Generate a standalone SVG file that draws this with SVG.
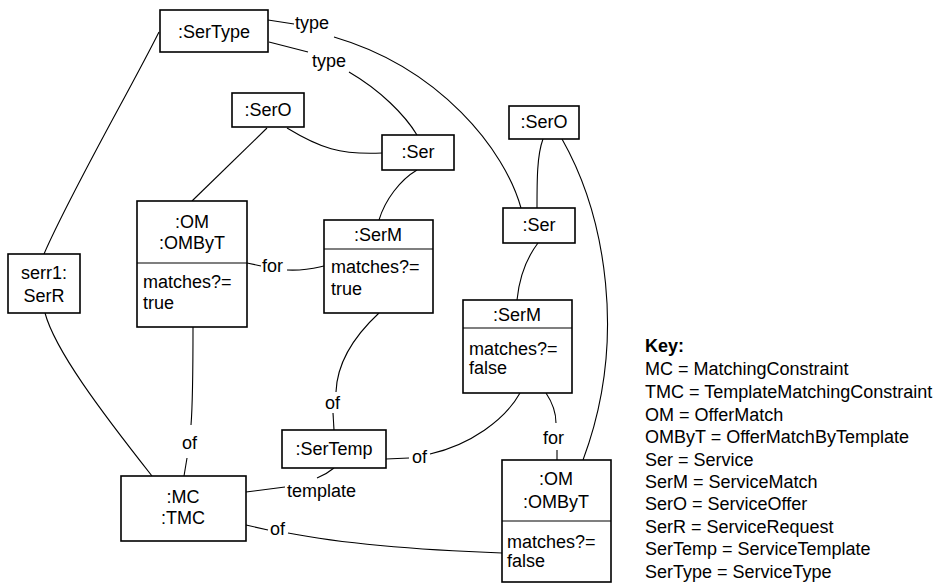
<svg xmlns="http://www.w3.org/2000/svg" width="940" height="584" viewBox="0 0 940 584">
<style>
.box{fill:#fff;stroke:#000;stroke-width:1.6}
.div{stroke:#000;stroke-width:1.2}
.c{fill:none;stroke:#000;stroke-width:1.1}
text{font-family:"Liberation Sans",Arial,sans-serif;font-size:18px;fill:#000}
.m{text-anchor:middle}
.b{font-weight:bold}
</style>
<rect width="940" height="584" fill="#fff"/>
<g id="connectors">
<path class="c" d="M159,32 C130,90 72,190 44,254"/>
<path class="c" d="M45,313 C55,350 100,410 152,476"/>
<path class="c" d="M268,20 L294,24"/>
<path class="c" d="M334,37 C440,68 505,150 521,208"/>
<path class="c" d="M269,42 L308,52"/>
<path class="c" d="M349,72 C380,90 405,115 417,135"/>
<path class="c" d="M287,128 C320,148 340,155 382,153"/>
<path class="c" d="M267,128 L192,201"/>
<path class="c" d="M417,170 C400,180 385,200 379,220"/>
<path class="c" d="M247,263 L261,266"/>
<path class="c" d="M287,270 C305,271 315,268 324,266"/>
<path class="c" d="M379,313 C350,340 337,365 336,392"/>
<path class="c" d="M333,413 L334,430"/>
<path class="c" d="M193,327 C193,360 193,400 191,425"/>
<path class="c" d="M187,458 L184,476"/>
<path class="c" d="M386,459 L409,458"/>
<path class="c" d="M430,454 C470,445 505,420 520,393"/>
<path class="c" d="M334,468 C328,473 322,476 317,478"/>
<path class="c" d="M246,492 L285,487"/>
<path class="c" d="M246,525 L268,530"/>
<path class="c" d="M288,533 C350,545 420,550 502,553"/>
<path class="c" d="M546,393 C552,402 556,412 556,423"/>
<path class="c" d="M557,450 L557,460"/>
<path class="c" d="M543,139 C537,155 537,180 537,208"/>
<path class="c" d="M562,139 C605,215 628,340 583,460"/>
<path class="c" d="M538,243 C525,260 519,280 517,300"/>
<text x="295" y="29">type</text>
<text x="312" y="67">type</text>
<text x="262" y="272">for</text>
<text x="325" y="409">of</text>
<text x="182" y="449">of</text>
<text x="412" y="463">of</text>
<text x="287" y="497">template</text>
<text x="270" y="535">of</text>
<text x="543" y="444">for</text>
</g>
<g id="sertype"><rect class="box" x="160" y="10" width="108" height="42"/><text class="m" x="214" y="38">:SerType</text></g>
<g id="sero1"><rect class="box" x="232" y="93" width="72" height="34"/><text class="m" x="268" y="116">:SerO</text></g>
<g id="ser1"><rect class="box" x="382" y="135" width="72" height="35"/><text class="m" x="418" y="158">:Ser</text></g>
<g id="sero2"><rect class="box" x="509" y="106" width="70" height="33"/><text class="m" x="544" y="128">:SerO</text></g>
<g id="ser2"><rect class="box" x="503" y="208" width="72" height="35"/><text class="m" x="539" y="231">:Ser</text></g>
<g id="serr1"><rect class="box" x="8" y="254" width="72" height="59"/><text class="m" x="44" y="279">serr1:</text><text class="m" x="44" y="302">SerR</text></g>
<g id="om1"><rect class="box" x="137" y="201" width="110" height="126"/><line class="div" x1="137" y1="263" x2="247" y2="263"/><text class="m" x="192" y="228">:OM</text><text class="m" x="192" y="249">:OMByT</text><text x="143" y="288">matches?=</text><text x="143" y="309">true</text></g>
<g id="serm1"><rect class="box" x="324" y="220" width="109" height="93"/><line class="div" x1="324" y1="249" x2="433" y2="249"/><text class="m" x="378" y="241">:SerM</text><text x="331" y="273">matches?=</text><text x="331" y="295">true</text></g>
<g id="serm2"><rect class="box" x="463" y="300" width="109" height="93"/><line class="div" x1="463" y1="328" x2="572" y2="328"/><text class="m" x="517" y="321">:SerM</text><text x="469" y="355">matches?=</text><text x="469" y="374">false</text></g>
<g id="sertemp"><rect class="box" x="282" y="430" width="104" height="38"/><text class="m" x="334" y="455">:SerTemp</text></g>
<g id="mc"><rect class="box" x="121" y="476" width="125" height="65"/><text class="m" x="183" y="503">:MC</text><text class="m" x="183" y="524">:TMC</text></g>
<g id="om2"><rect class="box" x="502" y="460" width="109" height="122"/><line class="div" x1="502" y1="521" x2="611" y2="521"/><text class="m" x="556" y="485">:OM</text><text class="m" x="556" y="508">:OMByT</text><text x="507" y="548">matches?=</text><text x="507" y="567">false</text></g>
<g id="key">
<text class="b" x="645" y="352">Key:</text>
<text x="645" y="375">MC = MatchingConstraint</text>
<text x="645" y="398">TMC = TemplateMatchingConstraint</text>
<text x="645" y="421">OM = OfferMatch</text>
<text x="645" y="443">OMByT = OfferMatchByTemplate</text>
<text x="645" y="466">Ser = Service</text>
<text x="645" y="488">SerM = ServiceMatch</text>
<text x="645" y="510">SerO = ServiceOffer</text>
<text x="645" y="533">SerR = ServiceRequest</text>
<text x="645" y="555">SerTemp = ServiceTemplate</text>
<text x="645" y="578">SerType = ServiceType</text>
</g>
</svg>
